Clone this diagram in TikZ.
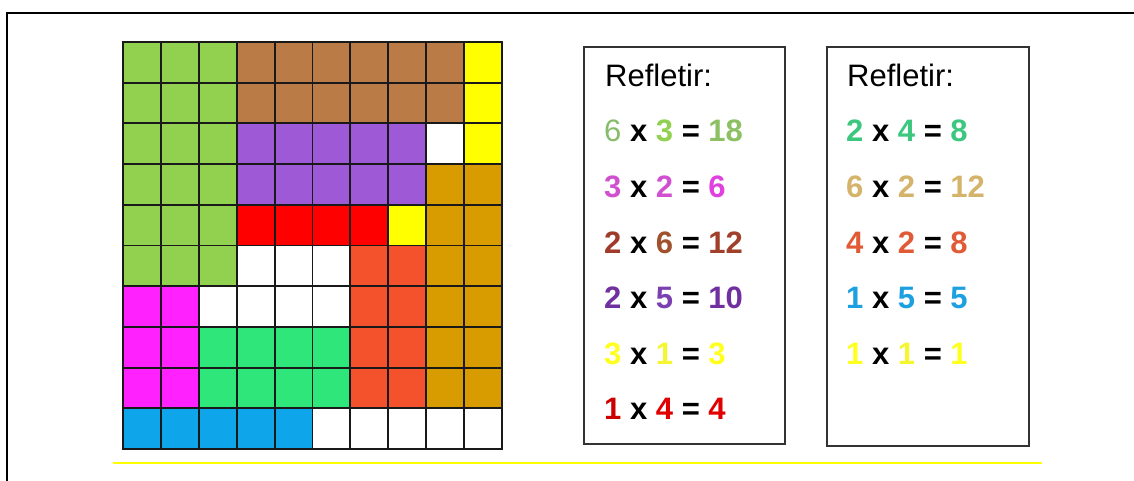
\documentclass[tikz,border=0pt]{standalone}
\usepackage{fontspec}
\setmainfont{Liberation Sans}
\definecolor{cG}{HTML}{92D050}
\definecolor{cB}{HTML}{BB7B47}
\definecolor{cY}{HTML}{FFFF00}
\definecolor{cP}{HTML}{9E5AD6}
\definecolor{cR}{HTML}{FF0000}
\definecolor{cT}{HTML}{F4522D}
\definecolor{cO}{HTML}{D89C00}
\definecolor{cM}{HTML}{FF22FF}
\definecolor{cE}{HTML}{2FE67A}
\definecolor{cU}{HTML}{0EA5EA}
\definecolor{cW}{HTML}{FFFFFF}
\definecolor{boxgray}{HTML}{333333}
\newcommand{\myeq}[6]{{\bfseries\textcolor[HTML]{#1}{#2} x \textcolor[HTML]{#3}{#4} = \textcolor[HTML]{#5}{#6}}}
\begin{document}
\begin{tikzpicture}[x=1pt,y=-1pt,
  eqline/.style={anchor=base west, inner sep=0pt, font=\fontsize{31}{31}\selectfont},
  panel/.style={draw=boxgray, line width=1.6pt, anchor=north west, inner sep=0pt},
  gridline/.style={line width=1.9pt, black!90}]
\useasboundingbox (0,0) rectangle (1134,481);
% outer frame
\draw[line width=2pt] (7,481) -- (7,13) -- (1134,13);
% grid fills
\foreach \row [count=\r from 0] in {
  {G,G,G,B,B,B,B,B,B,Y},
  {G,G,G,B,B,B,B,B,B,Y},
  {G,G,G,P,P,P,P,P,W,Y},
  {G,G,G,P,P,P,P,P,O,O},
  {G,G,G,R,R,R,R,Y,O,O},
  {G,G,G,W,W,W,T,T,O,O},
  {M,M,W,W,W,W,T,T,O,O},
  {M,M,E,E,E,E,T,T,O,O},
  {M,M,E,E,E,E,T,T,O,O},
  {U,U,U,U,U,W,W,W,W,W}}{
  \foreach \c [count=\k from 0] in \row {
    \fill[c\c] ({123+\k*37.9},{42+\r*40.7}) rectangle ++(37.9,40.7);
  }
}
% grid lines
\foreach \k in {0,...,10}{
  \draw[gridline] ({123+\k*37.9},41.1) -- ({123+\k*37.9},449.9);
  \draw[gridline] (122.1,{42+\k*40.7}) -- (501.9,{42+\k*40.7});
}
% panels
\node[panel, minimum width=201pt, minimum height=397pt] (box1) at (583,46) {};
\node[panel, minimum width=202pt, minimum height=399pt] (box2) at (826,46) {};
% panel 1 text
\node[eqline] (t1) at (605,87) {Refletir:};
\node[eqline] (a1) at (604,142) {{\mdseries\textcolor[HTML]{86BC6A}{6}} {\bfseries x \textcolor[HTML]{92D050}{3} = \textcolor[HTML]{8CC063}{18}}};
\node[eqline] (a2) at (604,197.5) {\myeq{D050D0}{3}{D050D0}{2}{E040E0}{6}};
\node[eqline] (a3) at (604,253) {\myeq{A03A2A}{2}{A0522D}{6}{A0402A}{12}};
\node[eqline] (a4) at (604,308) {\myeq{7030A0}{2}{7A3FB0}{5}{7030A0}{10}};
\node[eqline] (a5) at (604,364) {\myeq{FFFF20}{3}{F5F530}{1}{FFFF20}{3}};
\node[eqline] (a6) at (604,419) {\myeq{CC0000}{1}{E00000}{4}{E00000}{4}};
% panel 2 text
\node[eqline] (t2) at (847,87) {Refletir:};
\node[eqline] (b1) at (846,142) {\myeq{3CC77F}{2}{3CC77F}{4}{3CC77F}{8}};
\node[eqline] (b2) at (846,197.5) {\myeq{D4B46A}{6}{D4B46A}{2}{D4B46A}{12}};
\node[eqline] (b3) at (846,253) {\myeq{E05A35}{4}{E05A35}{2}{E05A35}{8}};
\node[eqline] (b4) at (846,308) {\myeq{1CA0E0}{1}{1CA0E0}{5}{1CA0E0}{5}};
\node[eqline] (b5) at (846,364) {\myeq{FFFF20}{1}{F5F530}{1}{FFFF20}{1}};
% yellow rule
\draw[cY, line width=2pt] (113,463) -- (1042,463);
\end{tikzpicture}
\end{document}
